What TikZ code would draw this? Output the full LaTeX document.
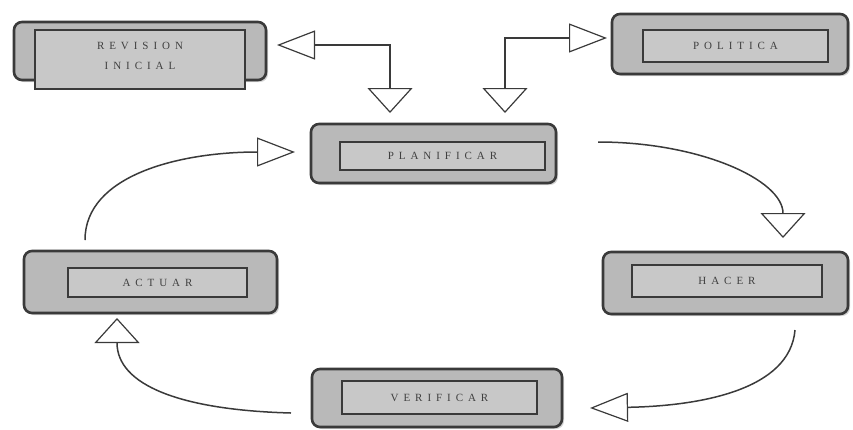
\documentclass[tikz,border=0pt]{standalone}
\usepackage{fontspec}
\setmainfont{Liberation Serif}[LetterSpace=45]
\usetikzlibrary{arrows.meta,shadows}
\definecolor{outerfill}{HTML}{B9B9B9}
\definecolor{innerfill}{HTML}{C8C8C8}
\definecolor{edge}{HTML}{3A3A3A}
\definecolor{txt}{HTML}{404040}
\begin{document}
\begin{tikzpicture}[x=1pt,y=-1pt,
  outerbox/.style={draw=edge,line width=2.6pt,fill=outerfill,rounded corners=8pt,
    minimum width=#1,inner sep=0pt,
    drop shadow={shadow xshift=2pt,shadow yshift=-2pt,opacity=0.35}},
  innerbox/.style={draw=edge,line width=1.6pt,fill=innerfill,inner sep=0pt,
    font=\fontsize{11}{20}\selectfont,text=txt,align=center},
  link/.style={draw=edge,line width=1.5pt},
  htip/.style={-{Triangle[open,length=38pt,width=29pt,line width=1.2pt]}},
  vtip/.style={-{Triangle[open,length=25pt,width=45pt,line width=1.2pt]}},
]
\useasboundingbox (0,0) rectangle (853,429);
% boxes
\node[outerbox=252pt,minimum height=58pt] (revo) at (140,51) {};
\node[innerbox,minimum width=210pt,minimum height=59pt] (rev) at (140,59.5) {};
\node[font=\fontsize{11}{20}\selectfont,text=txt,align=center,inner sep=0pt] (revtext) at (140,56) {REVISION\\INICIAL};
\node[outerbox=236pt,minimum height=60pt] (polo) at (730,44) {};
\node[innerbox,minimum width=185pt,minimum height=32pt] (pol) at (735.5,46) {POLITICA};
\node[outerbox=245pt,minimum height=59pt] (plano) at (433.5,153.5) {};
\node[innerbox,minimum width=205pt,minimum height=28pt] (plan) at (442.5,156) {PLANIFICAR};
\node[outerbox=245pt,minimum height=62pt] (haco) at (725.5,283) {};
\node[innerbox,minimum width=190pt,minimum height=32pt] (hac) at (727,281) {HACER};
\node[outerbox=253pt,minimum height=62pt] (acto) at (150.5,282) {};
\node[innerbox,minimum width=179pt,minimum height=29pt] (act) at (157.5,282.5) {ACTUAR};
\node[outerbox=250pt,minimum height=58pt] (vero) at (437,398) {};
\node[innerbox,minimum width=195pt,minimum height=33pt] (ver) at (439.5,397.5) {VERIFICAR};
% connector end points
\coordinate (revtip) at (277,45);
\coordinate (plantipA) at (390,113);
\coordinate (elbowA) at (390,45);
\coordinate (poltip) at (607,38);
\coordinate (plantipB) at (505,113);
\coordinate (elbowB) at (505,38);
\coordinate (planout) at (598,142);
\coordinate (hactip) at (783,238);
\coordinate (hacout) at (795,330);
\coordinate (vertip) at (590,408);
\coordinate (verout) at (291,413);
\coordinate (acttip) at (117,318);
\coordinate (actout) at (85,240);
\coordinate (plantipC) at (295,152);
% connectors
\draw[link,{Triangle[open,length=38pt,width=29pt,line width=1.2pt]}-{Triangle[open,length=25pt,width=45pt,line width=1.2pt]}]
  (revtip) -- (elbowA) -- (plantipA);
\draw[link,{Triangle[open,length=25pt,width=45pt,line width=1.2pt]}-{Triangle[open,length=38pt,width=29pt,line width=1.2pt]}]
  (plantipB) -- (elbowB) -- (poltip);
\draw[link,vtip] (planout) .. controls (700,142) and (783,180) .. (hactip);
\draw[link,htip] (hacout) .. controls (790,390) and (700,406) .. (vertip);
\draw[link,vtip] (verout) .. controls (180,410) and (117,385) .. (acttip);
\draw[link,htip] (actout) .. controls (85,175) and (180,152) .. (plantipC);
\end{tikzpicture}
\end{document}
